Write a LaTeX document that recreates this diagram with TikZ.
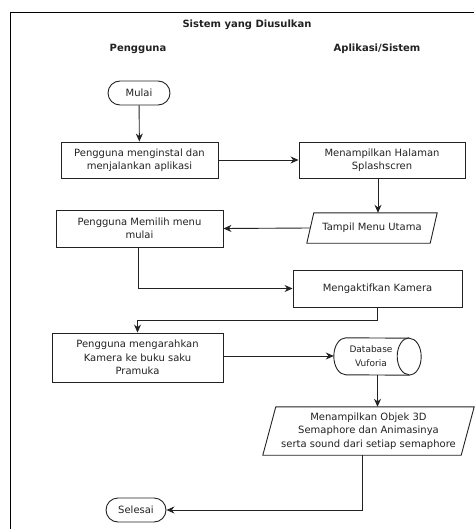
\documentclass[tikz,border=0pt]{standalone}
\usepackage{fontspec}
\setmainfont{DejaVu Sans}
\usetikzlibrary{arrows.meta,shapes.misc,calc}
\definecolor{ink}{HTML}{222222}
\newcommand\drawio[2]{\draw[shapeline] ($(#1.south west)+(-#2,0)$) -- ($(#1.south east)+(-#2,0)$) -- ($(#1.north east)+(#2,0)$) -- ($(#1.north west)+(#2,0)$) -- cycle;}
\begin{document}
\begin{tikzpicture}[x=1pt,y=-1pt,
  every node/.style={font=\fontsize{10}{13.5}\selectfont, text=ink, align=center, inner sep=0pt},
  shapeline/.style={draw=ink, line width=0.9pt},
  proc/.style={shapeline, rectangle},
  term/.style={shapeline, rounded rectangle, minimum height=24pt},
  iobox/.style={rectangle, draw=none},
  head/.style={font=\bfseries\fontsize{10}{12}\selectfont},
  arr/.style={draw=ink, line width=0.9pt, -{Stealth[length=8pt,width=7pt]}},
  conn/.style={draw=ink, line width=0.9pt}]
\useasboundingbox (0,0) rectangle (474,529);
% frame
\coordinate (fbl) at (10,529);
\coordinate (ftl) at (10,12);
\coordinate (ftr) at (474,12);
\draw[line width=0.9pt, draw=black] (fbl) -- (ftl) -- (ftr);
% headings
\node[head] (title) at (247,25) {Sistem yang Diusulkan};
\node[head] (lane1) at (138,49) {Pengguna};
\node[head] (lane2) at (377,49) {Aplikasi/Sistem};
% nodes
\node[term, minimum width=62pt] (mulai) at (139,93) {Mulai};
\node[proc, minimum width=157pt, minimum height=36pt] (box1) at (139.5,160) {Pengguna menginstal dan\\menjalankan aplikasi};
\node[proc, minimum width=166pt, minimum height=36pt] (box2) at (382,160) {Menampilkan Halaman\\Splashscren};
\node[iobox, minimum width=123pt, minimum height=30pt] (tampil) at (372,228) {Tampil Menu Utama};
\drawio{tampil}{3.5}
\node[proc, minimum width=167pt, minimum height=37pt] (box3) at (139.5,228.5) {Pengguna Memilih menu\\mulai};
\node[proc, minimum width=169pt, minimum height=37pt] (box4) at (377.5,288.5) {Mengaktifkan Kamera};
\node[proc, minimum width=171pt, minimum height=49pt] (box5) at (137.5,357.5) {Pengguna mengarahkan\\Kamera ke buku saku\\Pramuka};
% database (direct access storage)
\node[iobox, minimum width=87pt, minimum height=37pt] (db) at (377.5,356.5) {};
\node[font=\fontsize{9}{14}\selectfont] (dbtext) at (371,356.5) {Database\\Vuforia};
\draw[shapeline] ($(db.north west)+(12,0)$) arc[start angle=90, end angle=270, x radius=12pt, y radius=18.5pt]
  -- ($(db.south east)+(-12,0)$) arc[start angle=-90, end angle=90, x radius=12pt, y radius=18.5pt] -- cycle;
\draw[shapeline] ($(db.north east)+(-12,0)$) arc[start angle=90, end angle=270, x radius=12pt, y radius=18.5pt];
\node[iobox, minimum width=198pt, minimum height=48pt] (para2) at (368.5,431) {Menampilkan Objek 3D\\Semaphore dan Animasinya\\serta sound dari setiap semaphore};
\drawio{para2}{6.5}
\node[term, minimum width=60pt] (selesai) at (136,510) {Selesai};
% connectors
\draw[arr] (mulai) -- (box1);
\draw[arr] (box1) -- (box2);
\draw[arr] ([xshift=-4pt]box2.south) -- ([xshift=-4pt]box2.south |- tampil.north);
\draw[arr] (tampil.west) -- (box3.east);
\draw[arr] ([xshift=-1.5pt]box3.south) |- (box4.west);
\draw[arr] (box4.south) -- ++(0,13) -| (box5.north);
\draw[arr] ([yshift=1.5pt]box5.east) -- ([yshift=1.5pt]box5.east -| db.west);
\draw[arr] (db.south) -- (db.south |- para2.north);
\draw[arr] ([xshift=-6.5pt]para2.south) |- (selesai.east);
\end{tikzpicture}
\end{document}
